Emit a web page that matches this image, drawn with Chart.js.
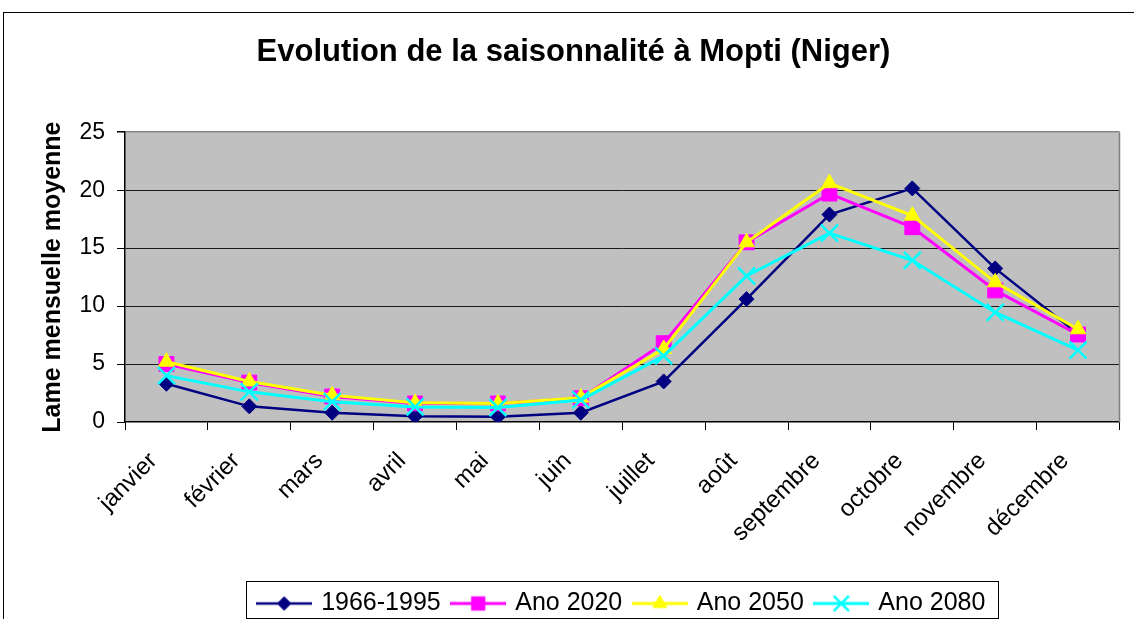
<!DOCTYPE html>
<html>
<head>
<meta charset="utf-8">
<title>Evolution de la saisonnalité à Mopti (Niger)</title>
<script src="https://cdn.jsdelivr.net/npm/chart.js@4.4.1/dist/chart.umd.min.js"></script>
<style>
  html, body { margin: 0; padding: 0; background: #fff; }
  canvas { display: block; }
</style>
</head>
<body>
<canvas id="chart" width="1134" height="619"></canvas>
<script>
// valeurs (lame mensuelle moyenne)
const mois = ['janvier', 'février', 'mars', 'avril', 'mai', 'juin', 'juillet', 'août', 'septembre', 'octobre', 'novembre', 'décembre'];
const serie1966 = [3.3, 1.35, 0.8, 0.5, 0.45, 0.8, 3.5, 10.6, 17.9, 20.15, 13.25, 7.6];
const ano2020 = [5.0, 3.4, 2.2, 1.6, 1.6, 2.05, 6.8, 15.5, 19.7, 16.8, 11.35, 7.55];
const ano2050 = [5.2, 3.5, 2.3, 1.65, 1.6, 2.1, 6.3, 15.5, 20.6, 17.8, 12.05, 8.0];
const ano2080 = [4.0, 2.6, 1.75, 1.3, 1.25, 1.9, 5.7, 12.6, 16.3, 13.95, 9.45, 6.2];
const yTicks = [0, 5, 10, 15, 20, 25];

const FONT = "'Liberation Sans', Arial, sans-serif";

// petite image ligne + marqueur pour la légende
function iconeLegende(couleur, style, rayon, epaisseur, bord) {
    const c = document.createElement('canvas');
    c.width = 56; c.height = 26;
    const ctx = c.getContext('2d');
    ctx.strokeStyle = couleur;
    ctx.fillStyle = couleur;
    ctx.lineWidth = epaisseur;
    ctx.beginPath(); ctx.moveTo(0, 13); ctx.lineTo(56, 13); ctx.stroke();
    ctx.lineWidth = bord;
    Chart.helpers.drawPoint(ctx, { pointStyle: style, radius: rayon, borderWidth: bord, rotation: 0 }, 28, 13);
    return c;
}

const series = [
    { label: '1966-1995', data: serie1966, color: '#000080', style: 'rectRot', r: 7.5, w: 2.5, b: 1, order: 4 },
    { label: 'Ano 2020', data: ano2020, color: '#FF00FF', style: 'rect', r: 10.5, w: 3, b: 1, order: 3 },
    { label: 'Ano 2050', data: ano2050, color: '#FFFF00', style: 'triangle', r: 9, w: 3, b: 1, order: 2 },
    { label: 'Ano 2080', data: ano2080, color: '#00FFFF', style: 'crossRot', r: 12, w: 3, b: 2.5, order: 1 }
];

const datasets = series.map(s => ({
    label: s.label,
    data: s.data,
    borderColor: s.color,
    backgroundColor: s.color,
    borderWidth: s.w,
    pointStyle: s.style,
    pointRadius: s.r,
    pointHoverRadius: s.r,
    pointBorderWidth: s.b,
    pointBackgroundColor: s.color,
    pointBorderColor: s.color,
    tension: 0,
    order: s.order
}));

const cadre = {
    id: 'cadre',
    beforeDraw(chart) {
        const { ctx, chartArea: a } = chart;
        ctx.save();
        ctx.fillStyle = '#fff';
        ctx.fillRect(0, 0, chart.width, chart.height);
        ctx.strokeStyle = '#000';
        ctx.lineWidth = 1;
        ctx.strokeRect(3.5, 12.5, chart.width + 20, chart.height + 20);
        ctx.fillStyle = '#C0C0C0';
        ctx.fillRect(a.left, a.top, a.right - a.left, a.bottom - a.top);
        ctx.restore();
    },
    afterLayout(chart) {
        // la légende est décalée vers la droite dans l'original
        chart.legend.left += 49;
        chart.legend.right += 49;
    },
    beforeDatasetsDraw(chart) {
        const { ctx, chartArea: a } = chart;
        ctx.save();
        ctx.strokeStyle = '#808080';
        ctx.lineWidth = 1.5;
        ctx.beginPath();
        ctx.moveTo(a.right, a.top); ctx.lineTo(a.right, a.bottom);
        ctx.stroke();
        ctx.restore();
    },
    afterDraw(chart) {
        const boxes = chart.legend.legendHitBoxes;
        if (!boxes || !boxes.length) return;
        const gauche = Math.min(...boxes.map(b => b.left)) - 14;
        const droite = Math.max(...boxes.map(b => b.left + b.width)) + 12;
        const ctx = chart.ctx;
        ctx.save();
        ctx.strokeStyle = '#000';
        ctx.lineWidth = 1;
        ctx.strokeRect(Math.round(gauche) + 0.5, 581.5, Math.round(droite - gauche), 37);
        ctx.restore();
    }
};

new Chart(document.getElementById('chart'), {
    type: 'line',
    data: { labels: mois, datasets: datasets },
    plugins: [cadre],
    options: {
        responsive: false,
        animation: false,
        layout: { padding: { left: 24, right: 11, top: 0, bottom: -7 } },
        plugins: {
            tooltip: { enabled: false },
            title: {
                display: true,
                text: 'Evolution de la saisonnalité à Mopti (Niger)',
                color: '#000',
                font: { family: FONT, size: 31, weight: 'bold', lineHeight: 1.2 },
                padding: { top: 34, bottom: 61 }
            },
            legend: {
                position: 'bottom',
                labels: {
                    usePointStyle: true,
                    pointStyleWidth: 49,
                    boxHeight: 25,
                    padding: 13,
                    color: '#000',
                    font: { family: FONT, size: 25 },
                    generateLabels: chart => chart.data.datasets.map((ds, i) => ({
                        text: ds.label,
                        pointStyle: iconeLegende(series[i].color, series[i].style, series[i].r * 0.9, series[i].w, series[i].b),
                        fillStyle: 'transparent',
                        strokeStyle: 'transparent',
                        lineWidth: 0,
                        hidden: false,
                        datasetIndex: i,
                        fontColor: '#000'
                    }))
                }
            }
        },
        scales: {
            x: {
                offset: true,
                grid: { offset: true, drawOnChartArea: false, drawTicks: true, tickLength: 8, tickColor: '#000' },
                border: { color: '#000', width: 1.5 },
                ticks: {
                    autoSkip: false, maxRotation: 45, minRotation: 45, padding: 17, labelOffset: -13,
                    color: '#000', font: { family: FONT, size: 24 }
                },
                afterFit(scale) { scale.height = 156; }
            },
            y: {
                min: 0,
                max: 25,
                afterBuildTicks(scale) { scale.ticks = yTicks.map(v => ({ value: v })); },
                grid: {
                    color: ctx => ctx.tick.value === 25 ? '#808080' : (ctx.tick.value === 0 ? 'rgba(0,0,0,0)' : '#1a1a1a'),
                    lineWidth: ctx => ctx.tick.value === 25 ? 1.5 : 1,
                    drawTicks: true, tickLength: 8, tickColor: '#000'
                },
                border: { color: '#000', width: 1.5 },
                ticks: { padding: 12, color: '#000', font: { family: FONT, size: 23 } },
                title: {
                    display: true,
                    text: 'Lame mensuelle moyenne',
                    color: '#000',
                    font: { family: FONT, size: 25, weight: 'bold', lineHeight: 1.2 },
                    padding: { top: 14, bottom: 0 }
                },
                afterFit(scale) { scale.width = 101; }
            }
        }
    }
});
</script>
</body>
</html>
